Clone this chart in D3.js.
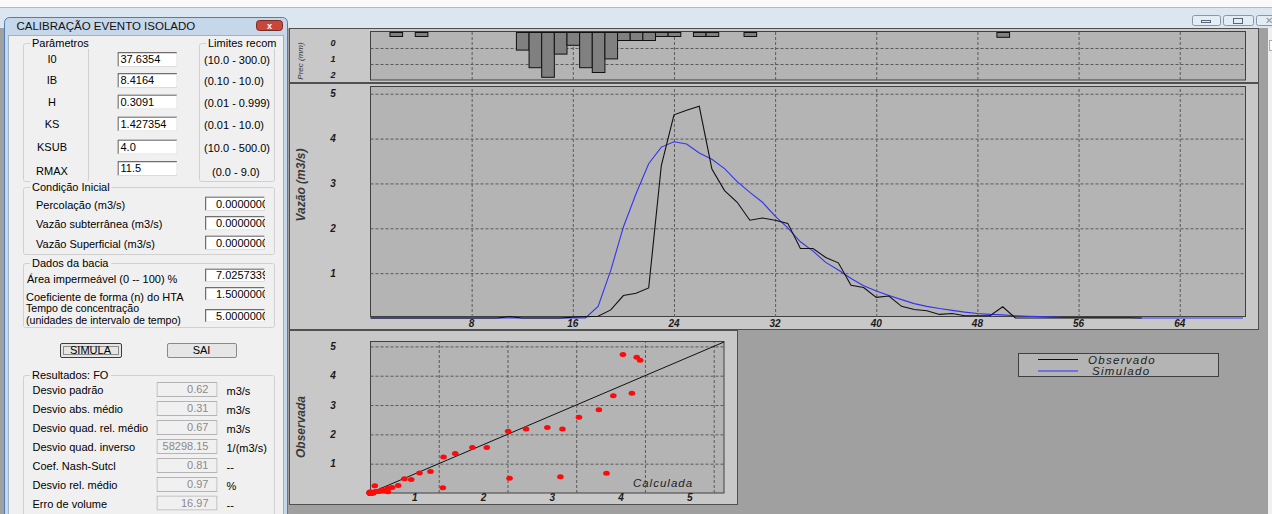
<!DOCTYPE html>
<html>
<head>
<meta charset="utf-8">
<script src="https://cdn.jsdelivr.net/npm/d3@7"></script>
<style>
body { margin: 0; overflow: hidden; background: #a0a0a0; }
svg text { font-family: "Liberation Sans", Arial, sans-serif; }
.ui { font-size: 11px; fill: #000; }
.lab { font-size: 10px; font-style: italic; font-weight: bold; fill: #1a1a1a; }
.grid line { stroke: #5a5a5a; stroke-dasharray: 3,2; }
.grid path { display: none; }
</style>
</head>
<body>
<svg id="tela"></svg>
<script>
/* DADOS */
var vazaoObs = [0, 0, 0, 0, 0, 0, 0, 0, 0, 0, 0, 0.03, 0, 0, 0, 0, 0.02, 0.03, 0.04, 0.18,
    0.50, 0.55, 0.67, 3.40, 4.53, 4.63, 4.72, 3.32, 2.84, 2.58, 2.18, 2.23, 2.18, 2.11, 1.55,
    1.55, 1.35, 1.23, 0.73, 0.68, 0.46, 0.49, 0.26, 0.19, 0.16, 0.08, 0.10, 0.05, 0.05, 0.05,
    0.25, 0, 0, 0, 0, 0, 0, 0, 0, 0, 0, 0];
var vazaoSim = [0, 0, 0, 0, 0, 0, 0, 0, 0, 0, 0, 0, 0, 0, 0, 0, 0, 0, 0.26, 1.06,
    2.03, 2.77, 3.44, 3.81, 3.93, 3.88, 3.68, 3.54, 3.33, 3.04, 2.80, 2.58, 2.27, 2.01, 1.70,
    1.49, 1.24, 1.07, 0.88, 0.72, 0.60, 0.50, 0.41, 0.32, 0.26, 0.21, 0.17, 0.13, 0.10, 0.08,
    0.07, 0.05, 0.04, 0.03, 0.02, 0.01, 0.01, 0.01, 0.01, 0.01, 0.01, 0, 0, 0, 0, 0, 0, 0, 0, 0];
var precTempo = [2, 4, 12, 13, 14, 15, 16, 17, 18, 19, 20, 21, 22, 23, 24, 26, 27, 30, 50];
var precMm = [0.25, 0.25, 1.1, 2.2, 2.8, 1.35, 0.8, 2.2, 2.5, 1.65, 0.5, 0.5, 0.5, 0.25, 0.25, 0.25, 0.25, 0.25, 0.3];

var xTicks = [8, 16, 24, 32, 40, 48, 56, 64];
var yTicks = [1, 2, 3, 4, 5];
var precTicks = [0, 1, 2];
var scatTicks = [1, 2, 3, 4, 5];
var legendaNomes = ["Observado", "Simulado"];
var legendaCores = ["#111111", "#5a5af0"];

var paramNomes = ["I0", "IB", "H", "KS", "KSUB", "RMAX"];
var paramValores = ["37.6354", "8.4164", "0.3091", "1.427354", "4.0", "11.5"];
var paramLimites = ["(10.0 - 300.0)", "(0.10 - 10.0)", "(0.01 - 0.999)", "(0.01 - 10.0)", "(10.0 - 500.0)", "(0.0 - 9.0)"];
var condNomes = ["Percolação (m3/s)", "Vazão subterrânea (m3/s)", "Vazão Superficial (m3/s)"];
var condValores = ["0.00000000", "0.00000000", "0.00000000"];
var baciaValores = ["7.02573395", "1.50000000", "5.00000000"];
var resNomes = ["Desvio padrão", "Desvio abs. médio", "Desvio quad. rel. médio", "Desvio quad. inverso",
    "Coef. Nash-Sutcl", "Desvio rel. médio", "Erro de volume"];
var resValores = ["0.62", "0.31", "0.67", "58298.15", "0.81", "0.97", "16.97"];
var resUnidades = ["m3/s", "m3/s", "m3/s", "1/(m3/s)", "--", "%", "--"];

var svg = d3.select("#tela").attr("width", 1272).attr("height", 514);

/* FUNDO E JANELA PRINCIPAL */
svg.append("rect").attr("width", 1272).attr("height", 514).attr("fill", "#a0a0a0");
svg.append("rect").attr("width", 1272).attr("height", 7).attr("fill", "#fafafa");
svg.append("rect").attr("y", 7).attr("width", 1272).attr("height", 21).attr("fill", "#dce6f0");
svg.append("line").attr("x1", 0).attr("x2", 1272).attr("y1", 7.5).attr("y2", 7.5).attr("stroke", "#b0bac6");
svg.append("rect").attr("x", 1268).attr("y", 28).attr("width", 4).attr("height", 486).attr("fill", "#f0f0f0");
svg.append("rect").attr("x", 1269.5).attr("y", 40.5).attr("width", 4).attr("height", 10).attr("fill", "#fff").attr("stroke", "#aaa");

[[1192, 28], [1223, 30], [1256, 24]].forEach(function (b, i) {
    svg.append("rect").attr("x", b[0] + 0.5).attr("y", 15.5).attr("width", b[1]).attr("height", 10).attr("rx", 2)
        .attr("fill", "#e4ecf4").attr("stroke", "#8797aa");
    if (i === 0) svg.append("rect").attr("x", b[0] + 9.5).attr("y", 20.5).attr("width", 9).attr("height", 2)
        .attr("fill", "none").attr("stroke", "#55657a");
    if (i === 1) svg.append("rect").attr("x", b[0] + 10.5).attr("y", 18.5).attr("width", 9).attr("height", 5)
        .attr("fill", "none").attr("stroke", "#55657a");
    if (i === 2) svg.append("text").attr("x", b[0] + 9).attr("y", 24).style("font-size", "10px").attr("fill", "#8797aa").text("✕");
});

/* PAINEIS DOS GRAFICOS */
var paineis = [[289, 28, 969, 54], [289, 83, 969, 246], [289, 330, 448, 174]];
paineis.forEach(function (p) {
    svg.append("rect").attr("x", p[0] + 0.5).attr("y", p[1] + 0.5).attr("width", p[2]).attr("height", p[3])
        .attr("fill", "#c8c8c8").attr("stroke", "#505050");
});

/* ESCALAS */
var xQ = d3.scaleLinear().domain([0, 69.2]).range([370.5, 1245.5]);
var yQ = d3.scaleLinear().domain([0, 5.15]).range([318, 87]);
var yP = d3.scaleLinear().domain([0, 3]).range([32, 80]);
var xS = d3.scaleLinear().domain([0, 5.15]).range([370, 724]);
var yS = d3.scaleLinear().domain([0, 5.15]).range([493, 342]);

/* PRECIPITACAO */
svg.append("rect").attr("x", 370.5).attr("y", 31.5).attr("width", 875).attr("height", 48.5)
    .attr("fill", "#b4b4b4").attr("stroke", "#404040");
svg.append("g").attr("class", "grid").attr("transform", "translate(0,80)")
    .call(d3.axisBottom(xQ).tickValues(xTicks).tickSize(-48).tickFormat(""));
svg.append("g").attr("class", "grid").attr("transform", "translate(370.5,0)")
    .call(d3.axisLeft(yP).tickValues([1, 2]).tickSize(-875).tickFormat(""));
svg.selectAll("rect.prec")
    .data(precTempo)
    .enter()
    .append("rect")
    .attr("class", "prec")
    .attr("x", d => xQ(d - 0.5) + 0.5)
    .attr("y", yP(0) + 0.5)
    .attr("width", d => xQ(d + 0.5) - xQ(d - 0.5))
    .attr("height", (d, i) => yP(precMm[i]) - yP(0))
    .attr("fill", "#808080")
    .attr("stroke", "#111");
svg.selectAll("text.precLab")
    .data(precTicks)
    .enter()
    .append("text")
    .attr("class", "lab precLab")
    .attr("x", 333).attr("y", d => yP(d) + 11).attr("dy", "0.35em")
    .attr("text-anchor", "middle").style("font-size", "9px")
    .text(d => d);
svg.append("text")
    .attr("transform", "translate(303,61) rotate(-90)")
    .attr("text-anchor", "middle").style("font-size", "8px").style("font-style", "italic").attr("fill", "#333")
    .text("Prec (mm)");

/* HIDROGRAMA */
svg.append("rect").attr("x", 370.5).attr("y", 86.5).attr("width", 875).attr("height", 230)
    .attr("fill", "#b4b4b4").attr("stroke", "#404040");
svg.append("g").attr("class", "grid").attr("transform", "translate(0,317)")
    .call(d3.axisBottom(xQ).tickValues(xTicks).tickSize(-230).tickFormat(""));
svg.append("g").attr("class", "grid").attr("transform", "translate(370.5,0)")
    .call(d3.axisLeft(yQ).tickValues(yTicks).tickSize(-875).tickFormat(""));

var linha = d3.line().x((d, i) => xQ(i)).y(d => yQ(d));
svg.append("path").datum(vazaoSim).attr("d", linha)
    .attr("fill", "none").attr("stroke", "#3434f0").attr("stroke-width", 1.1);
svg.append("path").datum(vazaoObs).attr("d", linha)
    .attr("fill", "none").attr("stroke", "#111").attr("stroke-width", 1.1);

svg.selectAll("text.xq")
    .data(xTicks).enter().append("text")
    .attr("class", "lab xq")
    .attr("x", d => xQ(d)).attr("y", 323.5).attr("dy", "0.35em")
    .attr("text-anchor", "middle").text(d => d);
svg.selectAll("text.yq")
    .data(yTicks).enter().append("text")
    .attr("class", "lab yq")
    .attr("x", 333).attr("y", d => yQ(d)).attr("dy", "0.35em")
    .attr("text-anchor", "middle").text(d => d);
svg.append("text")
    .attr("transform", "translate(305,185) rotate(-90)")
    .attr("text-anchor", "middle")
    .style("font-size", "12px").style("font-style", "italic").style("font-weight", "bold").attr("fill", "#3a3a3a")
    .text("Vazão (m3/s)");

/* DISPERSAO */
svg.append("rect").attr("x", 370.5).attr("y", 341.5).attr("width", 353.5).attr("height", 151.5)
    .attr("fill", "#b4b4b4").attr("stroke", "#404040");
svg.append("g").attr("class", "grid").attr("transform", "translate(0,493)")
    .call(d3.axisBottom(xS).tickValues(scatTicks).tickSize(-151).tickFormat(""));
svg.append("g").attr("class", "grid").attr("transform", "translate(370.5,0)")
    .call(d3.axisLeft(yS).tickValues(scatTicks).tickSize(-353.5).tickFormat(""));
svg.append("line")
    .attr("x1", xS(0)).attr("y1", yS(0)).attr("x2", xS(5.15)).attr("y2", yS(5.15))
    .attr("stroke", "#111").attr("stroke-width", 1);

var pares = vazaoObs.map((d, i) => ({ calc: vazaoSim[i], obs: d }));
svg.selectAll("ellipse.pt")
    .data(pares).enter().append("ellipse")
    .attr("class", "pt")
    .attr("cx", d => xS(d.calc)).attr("cy", d => yS(d.obs))
    .attr("rx", 3.3).attr("ry", 2.5)
    .attr("fill", "#ff0a0a");

svg.selectAll("text.xs")
    .data(scatTicks).enter().append("text")
    .attr("class", "lab xs")
    .attr("x", d => xS(d) - 24).attr("y", 497.5).attr("dy", "0.35em")
    .attr("text-anchor", "middle").text(d => d);
svg.selectAll("text.ys")
    .data(scatTicks).enter().append("text")
    .attr("class", "lab ys")
    .attr("x", 333).attr("y", d => yS(d)).attr("dy", "0.35em")
    .attr("text-anchor", "middle").text(d => d);
svg.append("text")
    .attr("transform", "translate(305,427) rotate(-90)")
    .attr("text-anchor", "middle")
    .style("font-size", "12px").style("font-style", "italic").style("font-weight", "bold").attr("fill", "#3a3a3a")
    .text("Observada");
svg.append("text")
    .attr("x", 663).attr("y", 486.5).attr("text-anchor", "middle")
    .style("font-size", "11.5px").style("font-style", "italic").style("letter-spacing", "1px").attr("fill", "#222")
    .text("Calculada");

/* LEGENDA */
svg.append("rect").attr("x", 1018.5).attr("y", 353.5).attr("width", 200).attr("height", 23)
    .attr("fill", "#b4b4b4").attr("stroke", "#404040");
legendaNomes.forEach(function (nome, i) {
    var y = 359.5 + i * 11.5;
    svg.append("line").attr("x1", 1038).attr("x2", 1078).attr("y1", y).attr("y2", y)
        .attr("stroke", legendaCores[i]).attr("stroke-width", i ? 1.6 : 1);
    svg.append("text").attr("x", 1088 + i * 4).attr("y", y).attr("dy", "0.35em")
        .style("font-size", "11.5px").style("font-style", "italic").style("letter-spacing", "1.3px").attr("fill", "#222")
        .text(nome);
});

/* JANELA DE DIALOGO */
var dlg = svg.append("g");
dlg.append("rect").attr("x", 4.5).attr("y", 17.5).attr("width", 283).attr("height", 520).attr("rx", 5)
    .attr("fill", "#c6d7ea").attr("stroke", "#4f7db3");
dlg.append("rect").attr("x", 8.5).attr("y", 35.5).attr("width", 275).attr("height", 490)
    .attr("fill", "#f0f0f0").attr("stroke", "#9fb2c8");
dlg.append("text").attr("x", 16.5).attr("y", 25.5).attr("dy", "0.35em")
    .style("font-size", "11.5px").attr("fill", "#111").text("CALIBRAÇÃO EVENTO ISOLADO");
dlg.append("rect").attr("x", 256.5).attr("y", 20.5).attr("width", 26).attr("height", 10).attr("rx", 3)
    .attr("fill", "#c9463d").attr("stroke", "#7a2a22");
dlg.append("text").attr("x", 269.5).attr("y", 25.8).attr("dy", "0.35em").attr("text-anchor", "middle")
    .style("font-size", "9px").style("font-weight", "bold").attr("fill", "#fff").text("x");

function grupo(x, y, w, h, titulo) {
    dlg.append("rect").attr("x", x + 0.5).attr("y", y + 0.5).attr("width", w).attr("height", h).attr("rx", 2)
        .attr("fill", "none").attr("stroke", "#d0d0d0");
    var fundo = dlg.append("rect").attr("fill", "#f0f0f0");
    var t = dlg.append("text").attr("class", "ui").attr("x", x + 9).attr("y", y).attr("dy", "0.35em").text(titulo);
    var bb = t.node().getBBox();
    fundo.attr("x", bb.x - 2).attr("y", bb.y).attr("width", bb.width + 4).attr("height", bb.height);
}

function caixa(x, y, w, h, valor, tipo) {
    var s = dlg.append("svg").attr("x", x).attr("y", y).attr("width", w).attr("height", h);
    if (tipo === "off") {
        s.append("rect").attr("x", 0.5).attr("y", 0.5).attr("width", w - 1).attr("height", h - 1)
            .attr("fill", "#f0f0f0").attr("stroke", "#b4b4b4");
        s.append("text").attr("class", "ui").attr("x", w - 9).attr("y", h / 2).attr("dy", "0.35em")
            .attr("text-anchor", "end").style("fill", "#8a8a8a").text(valor);
    } else {
        s.append("rect").attr("width", w).attr("height", h).attr("fill", "#fff");
        s.append("path").attr("d", "M0.5," + (h - 0.5) + "V0.5H" + (w - 0.5))
            .attr("fill", "none").attr("stroke", "#6e6e6e").attr("stroke-width", 1.5);
        s.append("path").attr("d", "M" + (w - 0.5) + ",0.5V" + (h - 0.5) + "H0.5")
            .attr("fill", "none").attr("stroke", "#dcdcdc");
        s.append("text").attr("class", "ui").attr("x", tipo === "num" ? 11 : 3).attr("y", h / 2).attr("dy", "0.35em")
            .text(valor);
    }
}

grupo(23, 43, 65, 138, "Parâmetros");
grupo(199, 43, 75, 138, "Limites recom");
var paramY = [59.5, 80.5, 102, 124, 147, 168.5];
paramNomes.forEach(function (n, i) {
    dlg.append("text").attr("class", "ui").attr("x", 52).attr("y", paramY[i] + (i > 3 ? 0.5 : 0) + (i === 5 ? 2 : 0))
        .attr("dy", "0.35em").attr("text-anchor", "middle").text(n);
    caixa(117.5, paramY[i] - 7.5, 60, 15, paramValores[i], "txt");
    dlg.append("text").attr("class", "ui").attr("x", i === 5 ? 212 : 204).attr("y", paramY[i] + (i === 5 ? 4 : 1))
        .attr("dy", "0.35em").text(paramLimites[i]);
});

grupo(23, 187, 251, 67, "Condição Inicial");
var condY = [203.5, 223, 242.5];
condNomes.forEach(function (n, i) {
    dlg.append("text").attr("class", "ui").attr("x", 36).attr("y", condY[i] + 1.5).attr("dy", "0.35em").text(n);
    caixa(205, condY[i] - 7, 60, 14.5, condValores[i], "num");
});

grupo(23, 263, 251, 64, "Dados da bacia");
dlg.append("text").attr("class", "ui").attr("x", 27).attr("y", 279).attr("dy", "0.35em").text("Área impermeável (0 -- 100) %");
dlg.append("text").attr("class", "ui").attr("x", 26).attr("y", 297).attr("dy", "0.35em").text("Coeficiente de forma (n) do HTA");
dlg.append("text").attr("class", "ui").attr("x", 26).attr("y", 308.5).attr("dy", "0.35em")
    .style("font-size", "10.6px").text("Tempo de concentração");
dlg.append("text").attr("class", "ui").attr("x", 26).attr("y", 320.5).attr("dy", "0.35em")
    .style("font-size", "10.6px").text("(unidades de intervalo de tempo)");
var baciaY = [275, 293.5, 315.5];
baciaValores.forEach(function (v, i) {
    caixa(205, baciaY[i] - 6.5, 60, 13.5, v, "num");
});

/* BOTOES */
[[60, 61, "SIMULA"], [167, 69, "SAI"]].forEach(function (b, i) {
    dlg.append("rect").attr("x", b[0] + 0.5).attr("y", 343.5).attr("width", b[1]).attr("height", 14).attr("rx", 1.5)
        .attr("fill", "#e6e6e6").attr("stroke", i ? "#8a8a8a" : "#3c3c3c");
    if (i === 0) dlg.append("rect").attr("x", b[0] + 3.5).attr("y", 346.5).attr("width", b[1] - 6).attr("height", 8)
        .attr("fill", "none").attr("stroke", "#333").attr("stroke-dasharray", "1,1");
    dlg.append("text").attr("class", "ui").attr("x", b[0] + b[1] / 2).attr("y", 350.5).attr("dy", "0.35em")
        .attr("text-anchor", "middle").text(b[2]);
});

grupo(23, 375, 251, 150, "Resultados: FO");
var resY = [389.5, 408.5, 427.5, 446.5, 465.5, 484.5, 503];
resNomes.forEach(function (n, i) {
    dlg.append("text").attr("class", "ui").attr("x", 32.5).attr("y", resY[i] + 1).attr("dy", "0.35em").text(n);
    caixa(156.5, resY[i] - 7.5, 61, 15, resValores[i], "off");
    dlg.append("text").attr("class", "ui").attr("x", 226.5).attr("y", resY[i] + 2).attr("dy", "0.35em").text(resUnidades[i]);
});
</script>
</body>
</html>
